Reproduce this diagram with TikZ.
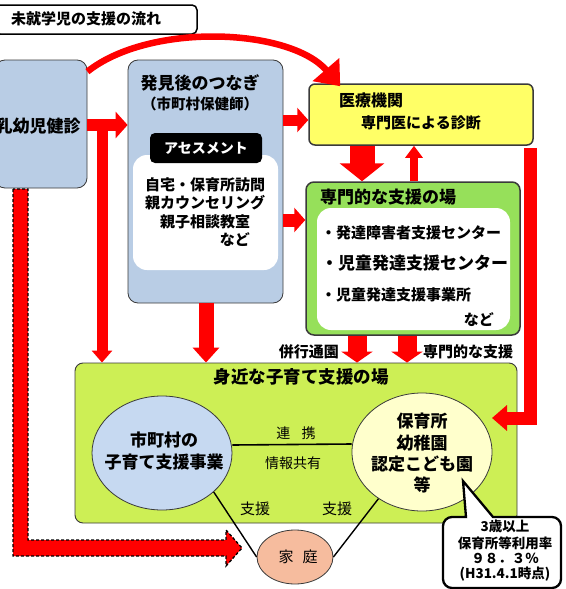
\documentclass[tikz,border=0pt]{standalone}
\usepackage{fontspec}
\setmainfont{Noto Sans CJK JP}
\usetikzlibrary{arrows.meta,shapes.geometric,calc}
\definecolor{boxblue}{HTML}{B9CDE5}
\definecolor{boxyellow}{HTML}{FFFF66}
\definecolor{boxgreen}{HTML}{96E05A}
\definecolor{boxlime}{HTML}{CDEF55}
\definecolor{ellblue}{HTML}{C6D9F1}
\definecolor{ellyellow}{HTML}{FFFFCC}
\definecolor{ellsalmon}{HTML}{F6BC9E}
\definecolor{bordergray}{HTML}{3A3A3A}
\newcommand{\fz}[1]{\fontsize{#1}{#1}\selectfont}
\begin{document}
\begin{tikzpicture}[x=1pt,y=-1pt,
  box/.style={draw=bordergray, rounded corners=10pt, inner sep=0pt},
  whitebox/.style={fill=white, rounded corners=14pt, inner sep=0pt},
  lbl/.style={inner sep=0pt, font=\bfseries},
  plain/.style={inner sep=0pt},
  redarrow/.style={draw=red, line width=#1},
  ell/.style={ellipse, draw=bordergray, line width=0.8pt, inner sep=0pt},
]
\useasboundingbox (0,0) rectangle (565,589);

% title
\node[box, draw=black, line width=1.5pt, rounded corners=5pt, minimum width=202pt, minimum height=29pt] (titlebox) at (96,19.5) {};
\node[lbl, anchor=west] (titletext) at (11,19) {\fz{15}未就学児の支援の流れ};

% boxes
\node[box, fill=boxblue, line width=0.8pt, minimum width=92pt, minimum height=128pt] (kenshin) at (41,124) {};
\node[lbl] (kenshintext) at (38,126) {\fz{17}乳幼児健診};

\node[box, fill=boxblue, line width=0.8pt, minimum width=155pt, minimum height=243pt] (hakken) at (205.5,181.5) {};
\node[lbl] (hakkent1) at (200,83) {\fz{17}発見後のつなぎ};
\node[lbl] (hakkent2) at (200,104) {\fz{14.5}（市町村保健師）};
\node[whitebox, minimum width=145pt, minimum height=115pt] (hakkenw) at (205.5,212.5) {};
\node[fill=black, rounded corners=5pt, minimum width=112pt, minimum height=30pt, inner sep=0pt] (assess) at (206,148) {};
\node[lbl, text=white] (assesst) at (206,148) {\fz{14}アセスメント};
\node[lbl] (h1) at (205,185) {\fz{15}自宅・保育所訪問};
\node[lbl] (h2) at (205,203) {\fz{15}親カウンセリング};
\node[lbl] (h3) at (205,222) {\fz{15}親子相談教室};
\node[lbl, anchor=east] (h4) at (250,240) {\fz{15}など};

\node[box, fill=boxyellow, line width=1.5pt, rounded corners=6pt, minimum width=224pt, minimum height=61pt] (iryo) at (421,114.5) {};
\node[lbl] (iryot1) at (371,100) {\fz{16}医療機関};
\node[lbl] (iryot2) at (421,123) {\fz{15}専門医による診断};

\node[box, fill=boxgreen, line width=1.5pt, rounded corners=8pt, minimum width=214pt, minimum height=153pt] (senmon) at (413,258.5) {};
\node[lbl] (senmont) at (388,197) {\fz{17}専門的な支援の場};
\node[whitebox, minimum width=193pt, minimum height=122pt] (senmonw) at (413.5,269) {};
\node[lbl, anchor=west] (s1) at (321,233) {\fz{15}・発達障害者支援センター};
\node[lbl, anchor=west] (s2) at (321,263) {\fz{17}・児童発達支援センター};
\node[lbl, anchor=west] (s3) at (321,295) {\fz{15}・児童発達支援事業所};
\node[lbl, anchor=east] (s4) at (494,320) {\fz{15}など};

\node[box, fill=boxlime, line width=0.9pt, rounded corners=8pt, minimum width=442pt, minimum height=160pt] (mijika) at (296,443) {};
\node[lbl] (mijikat) at (301,377) {\fz{17.5}身近な子育て支援の場};

% ellipses
\node[ell, fill=ellblue, minimum width=140pt, minimum height=114pt] (le) at (162,453) {};
\node[lbl, align=center] (let) at (164,451) {\fz{17}市町村の\\[5pt]\fz{17}子育て支援事業};
\node[ell, fill=ellyellow, minimum width=140pt, minimum height=118pt] (re) at (422,452) {};
\node[lbl, align=center] (ret) at (422,453) {\fz{17}保育所\\[4.5pt]\fz{17}幼稚園\\[4.5pt]\fz{17}認定こども園\\[3pt]\fz{17}等};
\node[ell, fill=ellsalmon, minimum width=76pt, minimum height=54pt] (ka) at (295,557) {};
\node[plain] (kat) at (298,557) {\fz{15}家\hspace{0.6em}庭};

% connections between ellipses
\draw[line width=1.6pt] ([yshift=8pt]le.east) -- ([yshift=8pt]re.west);
\node[plain] (renkei) at (296,433) {\fz{14}連\hspace{0.8em}携};
\node[plain] (joho) at (293,463) {\fz{14}情報共有};
\draw[line width=1.4pt] (le.-37) -- (ka.west);
\draw[line width=1.4pt] (re.-133) -- (ka.east);
\node[plain] (shien1) at (255,509) {\fz{15}支援};
\node[plain] (shien2) at (337,509) {\fz{15}支援};

% red arrows
\coordinate (kjoin) at (102,125);
\draw[redarrow=12pt, -{Triangle[width=26pt,length=12pt]}] (kenshin.east |- kjoin) -- (hakken.west |- kjoin);
\draw[redarrow=11pt, -{Triangle[width=20pt,length=12pt]}] ([yshift=6pt]kjoin) -- (mijika.north -| kjoin);
\coordinate (hy1) at (0,120);
\coordinate (hy2) at (0,220);
\draw[redarrow=11pt, -{Triangle[width=24pt,length=11pt]}] (hakken.east |- hy1) -- (iryo.west |- hy1);
\draw[redarrow=13pt, -{Triangle[width=24pt,length=11pt]}] (hakken.east |- hy2) -- (senmon.west |- hy2);
\coordinate (hx) at (206,0);
\draw[redarrow=15pt, -{Triangle[width=26pt,length=15pt]}] (hakken.south -| hx) -- (mijika.north -| hx);

\coordinate (dn) at (362,0);
\coordinate (up) at (414,0);
\draw[redarrow=25pt, -{Triangle[width=44pt,length=18pt]}] (iryo.south -| dn) -- (senmon.north -| dn);
\draw[redarrow=8pt, -{Triangle[width=17pt,length=12pt]}] (senmon.north -| up) -- (iryo.south -| up);

\coordinate (d1) at (357,0);
\coordinate (d2) at (407,0);
\draw[redarrow=19pt, -{Triangle[width=31pt,length=11pt]}] (senmon.south -| d1) -- (mijika.north -| d1);
\draw[redarrow=19pt, -{Triangle[width=31pt,length=11pt]}] (senmon.south -| d2) -- (mijika.north -| d2);
\node[lbl, anchor=east] (heiko) at (339,352) {\fz{15}併行通園};
\node[lbl, anchor=west] (senmonshien) at (423,352) {\fz{15}専門的な支援};

\coordinate (rcorner) at (530,418);
\coordinate (rtip) at (492,418);
\draw[redarrow=13pt, -{Triangle[width=25pt,length=15pt]}, line join=miter] ([yshift=-2pt]iryo.south -| rcorner) |- (rtip);

% curved arrow
\draw[redarrow=6.5pt, -{Triangle[width=34pt,length=22pt]}] ([yshift=-12pt]kenshin.north east) .. controls (150,22) and (290,28) .. ([xshift=32pt,yshift=-3pt]iryo.north west);

% dashed arrow
\coordinate (dsa) at (13,189);
\coordinate (dsb) at (28,189);
\draw[fill=red, draw=black, line width=1.3pt, dash pattern=on 3pt off 2pt] (dsa) -- (13,556) -- (226,556) -- (226,566) -- (242,548) -- (226,530) -- (226,540) -- (28,540) -- (dsb) -- cycle;

% callout
\draw[fill=white, draw=black, line width=2.3pt] (443,550) [rounded corners=9pt] -- (443,517) [sharp corners] -- (466,517) -- (463,481) -- (493,517) [rounded corners=9pt] -- (561,517) -- (561,588) -- (443,588) [sharp corners] -- cycle;
\node[lbl, align=center] (callout) at (505,551) {\fz{13.5}3歳以上\\[3pt]\fz{13.5}保育所等利用率\\[3pt]\fz{13.5}９８．３％\\[3pt]\fz{13.5}(H31.4.1時点)};
\end{tikzpicture}
\end{document}
